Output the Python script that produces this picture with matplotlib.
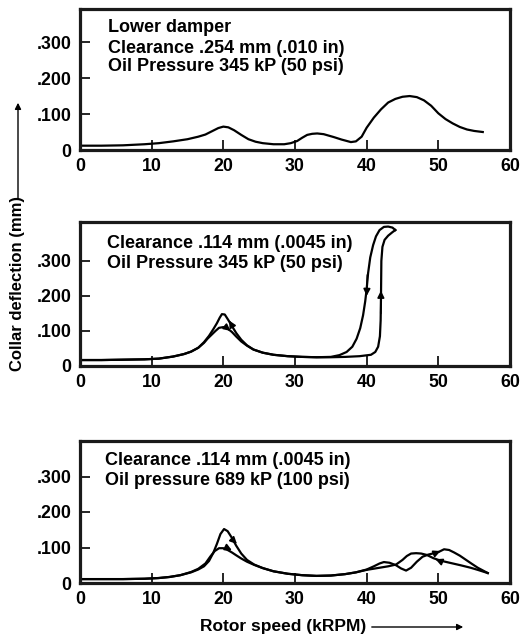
import matplotlib
matplotlib.use("Agg")
import matplotlib.pyplot as plt

plt.rcParams['font.family'] = ['Liberation Sans', 'DejaVu Sans']
plt.rcParams['font.weight'] = 'bold'

# ---------------- data ----------------
x_ticks = [0, 10, 20, 30, 40, 50, 60]
y_ticks = [0, 0.1, 0.2, 0.3]
y_tick_labels = ['0', '.100', '.200', '.300']

# Panel 1: lower damper, clearance .254 mm, 345 kP
p1_x = [0, 3, 6, 9, 11, 13, 15, 16.5, 17.5, 18.5, 19.3, 20, 20.7, 21.5, 22.5, 23.5,
        24.5, 25.5, 27, 28.5, 29.4, 30.3, 31.0, 31.7, 32.4, 33.1, 34, 35.4, 36.5, 37.8,
        38.5, 39.3, 40, 41, 42, 43, 44, 45, 46, 47, 48, 49, 50, 51, 52, 53, 54, 55, 56.2]
p1_y = [0.012, 0.012, 0.013, 0.016, 0.019, 0.024, 0.030, 0.037, 0.043, 0.053, 0.061,
        0.065, 0.063, 0.055, 0.042, 0.030, 0.023, 0.019, 0.016, 0.016, 0.019, 0.025,
        0.034, 0.042, 0.045, 0.046, 0.044, 0.036, 0.029, 0.022, 0.024, 0.037, 0.062,
        0.090, 0.113, 0.132, 0.142, 0.148, 0.150, 0.147, 0.138, 0.123, 0.102, 0.086,
        0.074, 0.064, 0.057, 0.053, 0.050]

# Panel 2: clearance .114 mm, 345 kP
p2_up_x = [0, 3, 6, 9, 11, 13, 14.5, 15.5, 16.5, 17.3, 18, 18.6, 19.1, 19.5, 19.8,
           20.2, 20.7, 21.2, 21.8, 22.5, 23.3, 24.2, 25.5, 27, 29, 31, 33, 35, 37, 39,
           40.6, 41.2, 41.6, 41.85, 41.95, 42.0, 42.05, 42.2, 42.5, 43.0, 43.6, 44.0]
p2_up_y = [0.017, 0.017, 0.018, 0.019, 0.021, 0.027, 0.034, 0.041, 0.052, 0.068,
           0.086, 0.105, 0.122, 0.138, 0.148, 0.147, 0.131, 0.114, 0.094, 0.075, 0.059,
           0.047, 0.038, 0.032, 0.028, 0.026, 0.025, 0.025, 0.026, 0.028, 0.032, 0.040,
           0.055, 0.085, 0.130, 0.200, 0.300, 0.340, 0.360, 0.372, 0.382, 0.388]
p2_dn_x = [44.0, 43.6, 43.0, 42.4, 41.8, 41.3, 40.9, 40.5, 40.2, 40.0, 39.8, 39.5,
           39.1, 38.6, 38.0, 37.2, 36.2, 35.0, 33, 31, 29, 27, 25.5, 24.2, 23.3, 22.5,
           21.8, 21.2, 20.6, 20.0, 19.4, 18.9, 18.4, 17.8, 17.3, 16.5, 15.5, 14.5, 13,
           11, 9, 6, 3, 0]
p2_dn_y = [0.388, 0.395, 0.398, 0.397, 0.388, 0.370, 0.345, 0.310, 0.265, 0.220,
           0.185, 0.145, 0.108, 0.078, 0.055, 0.040, 0.031, 0.026, 0.025, 0.026, 0.028,
           0.032, 0.038, 0.047, 0.058, 0.070, 0.084, 0.097, 0.107, 0.111, 0.109, 0.100,
           0.090, 0.078, 0.066, 0.052, 0.041, 0.034, 0.027, 0.021, 0.019, 0.018, 0.017,
           0.017]
p2_arrows = [((40.1, 0.26), (40.0, 0.20)), ((41.97, 0.15), (41.99, 0.215)),
             ((21.3, 0.112), (20.8, 0.130)), ((20.4, 0.110), (21.0, 0.100))]

# Panel 3: clearance .114 mm, 689 kP
p3_up_x = [0, 3, 6, 9, 11, 12.5, 14, 15.5, 16.5, 17.3, 18, 18.6, 19.1, 19.6, 20.1,
           20.6, 21.2, 21.8, 22.5, 23.3, 24.3, 25.5, 27, 29, 31, 33, 35, 37, 38.5, 40,
           41, 41.8, 42.4, 43.2, 44.1, 44.8, 45.5, 46.2, 47, 47.8, 48.6, 49.4, 50.1,
           50.8, 51.5, 52.2, 53, 53.8, 54.6, 55.5, 56.9]
p3_up_y = [0.011, 0.011, 0.011, 0.012, 0.014, 0.017, 0.022, 0.030, 0.038, 0.047,
           0.062, 0.085, 0.110, 0.138, 0.152, 0.146, 0.127, 0.105, 0.083, 0.065, 0.052,
           0.042, 0.033, 0.026, 0.022, 0.020, 0.021, 0.025, 0.030, 0.038, 0.047, 0.055,
           0.059, 0.057, 0.050, 0.041, 0.035, 0.043, 0.060, 0.074, 0.080, 0.084, 0.088,
           0.095, 0.093, 0.086, 0.077, 0.066, 0.055, 0.043, 0.028]
p3_dn_x = [56.9, 55.5, 54.5, 53.1, 51.8, 50.3, 49.3, 48.4, 47.6, 46.9, 46.2, 45.6,
           45.0, 44.1, 43, 41.5, 40, 38.5, 37, 35, 33, 31, 29, 27, 25.5, 24.3, 23.3,
           22.5, 21.8, 21.2, 20.6, 20.0, 19.4, 18.8, 18.2, 17.5, 16.5, 15.5, 14, 12.5,
           11, 9, 6, 3, 0]
p3_dn_y = [0.028, 0.037, 0.043, 0.050, 0.056, 0.063, 0.070, 0.079, 0.083, 0.084,
           0.083, 0.076, 0.065, 0.052, 0.047, 0.042, 0.037, 0.030, 0.025, 0.021, 0.020,
           0.022, 0.026, 0.033, 0.042, 0.051, 0.060, 0.069, 0.078, 0.086, 0.093, 0.098,
           0.098, 0.090, 0.075, 0.055, 0.040, 0.031, 0.022, 0.017, 0.014, 0.012, 0.011,
           0.011, 0.011]
p3_arrows = [((21.3, 0.122), (21.9, 0.110)), ((20.6, 0.098), (21.2, 0.092)),
             ((49.7, 0.085), (50.3, 0.090)), ((50.2, 0.062), (49.6, 0.067))]

p1_text = ['Lower damper', 'Clearance .254 mm (.010 in)', 'Oil Pressure 345 kP (50 psi)']
p2_text = ['Clearance .114 mm (.0045 in)', 'Oil Pressure 345 kP (50 psi)']
p3_text = ['Clearance .114 mm (.0045 in)', 'Oil pressure 689 kP (100 psi)']

# ---------------- figure ----------------
W, H = 520, 636
fig = plt.figure(figsize=(W / 100, H / 100), dpi=100)


def make_ax(top_px, bot_px, ymax):
    left, right = 80, 510
    ax = fig.add_axes([left / W, 1 - bot_px / H, (right - left) / W, (bot_px - top_px) / H])
    ax.set_xlim(0, 60)
    ax.set_ylim(0, ymax)
    ax.set_xticks(x_ticks)
    ax.set_xticklabels([str(t) for t in x_ticks])
    ax.set_yticks(y_ticks)
    ax.set_yticklabels(y_tick_labels)
    ax.tick_params(direction='in', length=7, width=1.2, labelsize=12.8, pad=6,
                   colors='black')
    for s in ax.spines.values():
        s.set_linewidth(2.3)
        s.set_color('#1a1a1a')
    for lab in ax.get_xticklabels() + ax.get_yticklabels():
        lab.set_fontweight('bold')
    return ax


def add_text(ax, lines, x0, ys):
    for t, y in zip(lines, ys):
        ax.text(x0, y, t, transform=ax.transAxes, ha='left', va='center',
                fontsize=13, fontweight='bold')


def add_arrows(ax, arrows):
    for (x1, y1), (x2, y2) in arrows:
        ax.annotate('', xy=(x2, y2), xytext=(x1, y1),
                    arrowprops=dict(arrowstyle='-|>', color='black', lw=1.2,
                                    mutation_scale=10, shrinkA=0, shrinkB=0))


lw = 1.6
ax1 = make_ax(9, 150, 0.392)
ax1.plot(p1_x, p1_y, color='black', lw=lw)
add_text(ax1, p1_text, 0.065, [0.872, 0.723, 0.589])

ax2 = make_ax(222, 366, 0.411)
ax2.plot(p2_up_x, p2_up_y, color='black', lw=lw)
ax2.plot(p2_dn_x, p2_dn_y, color='black', lw=lw)
add_arrows(ax2, p2_arrows)
add_text(ax2, p2_text, 0.063, [0.854, 0.715])

ax3 = make_ax(441, 583, 0.40)
ax3.plot(p3_up_x, p3_up_y, color='black', lw=lw)
ax3.plot(p3_dn_x, p3_dn_y, color='black', lw=lw)
add_arrows(ax3, p3_arrows)
add_text(ax3, p3_text, 0.058, [0.866, 0.725])

# axis labels with arrows
fig.text(18 / W, 1 - 283.5 / H, 'Collar deflection (mm)', rotation=90,
         ha='center', va='center', fontsize=12, fontweight='bold')
fig.add_artist(matplotlib.patches.FancyArrowPatch(
    (18 / W, 1 - 201 / H), (18 / W, 1 - 100 / H), transform=fig.transFigure,
    arrowstyle='-|>', mutation_scale=9, lw=1.0, color='black'))

fig.text(283.5 / W, 1 - 627 / H, 'Rotor speed (kRPM)', ha='center', va='center',
         fontsize=12.5, fontweight='bold')
fig.add_artist(matplotlib.patches.FancyArrowPatch(
    (369 / W, 1 - 627 / H), (466 / W, 1 - 627 / H), transform=fig.transFigure,
    arrowstyle='-|>', mutation_scale=9, lw=1.0, color='black'))

fig.savefig('out.png', dpi=100)
